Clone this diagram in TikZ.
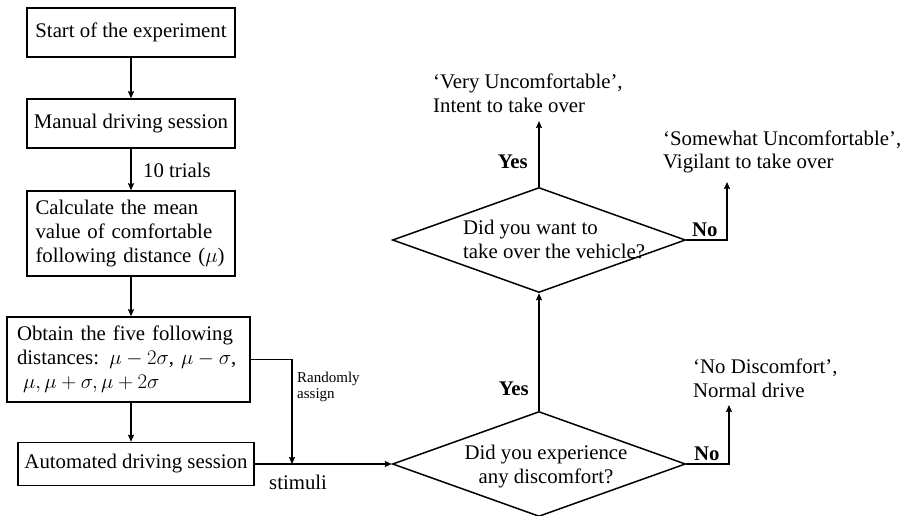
\documentclass[tikz,border=0pt]{standalone}
\usepackage{fix-cm}
\usepackage{fontspec}
\setmainfont{Liberation Serif}
\usetikzlibrary{shapes.geometric,arrows.meta}
\newcommand\mainsz{\fontsize{20.8}{24}\selectfont}
\newcommand\smallsz{\fontsize{15}{16}\selectfont}
\tikzset{
  box/.style={draw, line width=1.5pt, inner sep=0pt, font=\mainsz},
  dia/.style={draw, diamond, line width=1.5pt, minimum width=293pt, minimum height=105pt, inner sep=0pt},
  txt/.style={inner sep=0pt, font=\mainsz},
  lbl/.style={inner sep=0pt, font=\mainsz\bfseries},
  arr/.style={line width=1.5pt, -{Stealth[length=7pt,width=6pt,inset=1pt]}}
}
\begin{document}
\begin{tikzpicture}[x=1pt,y=-1pt]
\useasboundingbox (0,0) rectangle (900,516);
% left column boxes
\node[box, minimum width=208pt, minimum height=49pt] (b1) at (131,32.5) {Start of the experiment};
\node[box, minimum width=208pt, minimum height=49pt] (b2) at (131,123.5) {Manual driving session};
\node[box, minimum width=208pt, minimum height=85pt, inner xsep=8.5pt, text width=191pt, align=left] (b3) at (131,233.5)
  {Calculate the mean\\value of comfortable\\following distance ($\mu$)};
\node[box, minimum width=243pt, minimum height=85pt, inner xsep=10pt, text width=223pt, align=left] (b4) at (128.5,359.5)
  {Obtain the five following\\distances: $\mu-2\sigma$, $\mu-\sigma$,\\\hspace*{6pt}$\mu,\mu+\sigma,\mu+2\sigma$};
\node[box, minimum width=236pt, minimum height=43pt] (b5) at (136,464) {Automated driving session};
% diamonds
\node[dia] (d1) at (539,464) {};
\node[dia] (d2) at (539,240) {};
\node[txt, align=center] (q1) at (546,467) {Did you experience\\any discomfort?};
\node[txt, align=left, anchor=west] (q2) at (463,239) {Did you want to\\take over the vehicle?};
% outcomes (base = last line)
\node[txt, align=left, anchor=base west] (o1) at (433,113) {`Very Uncomfortable',\\Intent to take over};
\node[txt, align=left, anchor=base west] (o2) at (663,169) {`Somewhat Uncomfortable',\\Vigilant to take over};
\node[txt, align=left, anchor=base west] (o3) at (693,397) {`No Discomfort',\\Normal drive};
% connectors
\coordinate (j) at (292,464);
\coordinate (e1) at (539,121);
\coordinate (e2) at (727,182);
\coordinate (e3) at (729,405);
\draw[arr] (b1) -- (b2);
\draw[arr] (b2) -- (b3);
\draw[arr] (b3.south) -- (b3.south |- b4.north);
\draw[arr] (b4.south -| b3.south) -- (b5.north -| b3.south);
\draw[arr] (b4.east) -| (j);
\draw[arr] (b5.east) -- (d1.west);
\draw[arr] (d1.north) -- (d2.south);
\draw[arr] (d2.north) -- (e1);
\draw[arr] (d2.east) -| (e2);
\draw[arr] (d1.east) -| (e3);
% labels
\node[txt, anchor=base west] (t10) at (143,178) {10 trials};
\node[inner sep=0pt, font=\smallsz, align=left, anchor=base west] (ra) at (297,398) {Randomly\\assign};
\node[txt, anchor=base west] (st) at (269,489) {stimuli};
\node[lbl, anchor=base east] (y1) at (529,395) {Yes};
\node[lbl, anchor=base east] (y2) at (528,168) {Yes};
\node[lbl, anchor=base west] (n1) at (694,460) {No};
\node[lbl, anchor=base west] (n2) at (692,236) {No};
\end{tikzpicture}
\end{document}
